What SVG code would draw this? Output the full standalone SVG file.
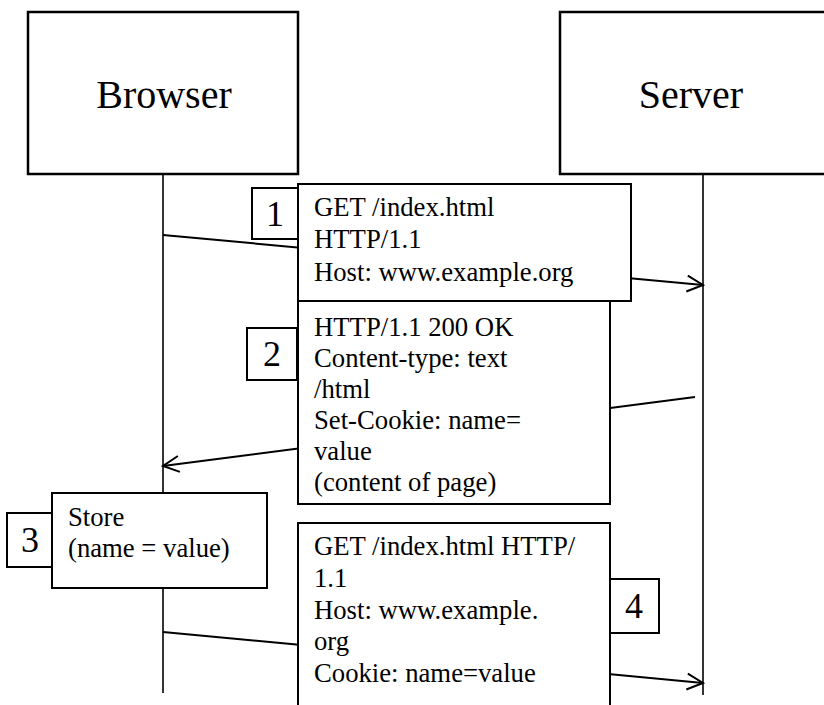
<svg xmlns="http://www.w3.org/2000/svg" width="824" height="705" viewBox="0 0 824 705">
<style>
  text { font-family: "Liberation Serif", Tinos, "Times New Roman", Times, "DejaVu Serif", serif; fill: #000; }
  .actor { fill: #fff; stroke: #000; stroke-width: 2.5; }
  .box { fill: #fff; stroke: #000; stroke-width: 2; }
  .life { stroke: #000; stroke-width: 1.6; fill: none; }
  .conn { stroke: #000; stroke-width: 2; fill: none; }
  .title { font-size: 40px; text-anchor: middle; }
  .msg { font-size: 26.7px; }
  .num { font-size: 36px; text-anchor: middle; }
</style>
<defs>
  <marker id="arr" viewBox="0 0 20 20" refX="18" refY="10" markerWidth="20" markerHeight="20" markerUnits="userSpaceOnUse" orient="auto">
    <path d="M2,2 L18,10 L2,18" fill="none" stroke="#000" stroke-width="2"/>
  </marker>
</defs>
<rect width="824" height="705" fill="#fff"/>

<g id="lifelines">
  <line class="life" x1="163" y1="174" x2="163" y2="693"/>
  <line class="life" x1="703" y1="174" x2="703" y2="695"/>
</g>

<g id="connectors">
  <line class="conn" x1="163" y1="235" x2="703" y2="285" marker-end="url(#arr)"/>
  <line class="conn" x1="695" y1="397" x2="163" y2="466" marker-end="url(#arr)"/>
  <line class="conn" x1="163" y1="632" x2="703" y2="683" marker-end="url(#arr)"/>
</g>

<g font-family="'Liberation Serif', Tinos, 'Times New Roman', 'DejaVu Serif', serif">
<g id="browser">
  <rect class="actor" x="28" y="12" width="270" height="162"/>
  <text class="title" x="164" y="108">Browser</text>
</g>

<g id="server">
  <rect class="actor" x="560" y="12" width="300" height="162"/>
  <text class="title" x="691" y="108">Server</text>
</g>

<g id="msg2">
  <rect class="box" x="298" y="301" width="312" height="203"/>
  <text class="msg"><tspan x="314" y="336">HTTP/1.1 200 OK</tspan><tspan x="314" y="367">Content-type: text</tspan><tspan x="314" y="398">/html</tspan><tspan x="314" y="429">Set-Cookie: name=</tspan><tspan x="314" y="460">value</tspan><tspan x="314" y="491">(content of page)</tspan></text>
</g>

<g id="msg1">
  <rect class="box" x="298" y="184" width="333" height="117"/>
  <text class="msg"><tspan x="314" y="216">GET /index.html</tspan><tspan x="314" y="248">HTTP/1.1</tspan><tspan x="314" y="281">Host: www.example.org</tspan></text>
</g>

<g id="label1">
  <rect class="box" x="252" y="188" width="46" height="51"/>
  <text class="num" x="275" y="226">1</text>
</g>

<g id="label2">
  <rect class="box" x="247" y="328" width="50" height="52"/>
  <text class="num" x="272" y="366">2</text>
</g>

<g id="store">
  <rect class="box" x="52" y="493" width="215" height="95"/>
  <text class="msg"><tspan x="68" y="526">Store</tspan><tspan x="68" y="557">(name = value)</tspan></text>
</g>

<g id="label3">
  <rect class="box" x="7" y="513" width="45" height="54"/>
  <text class="num" x="30" y="552">3</text>
</g>

<g id="msg4">
  <rect class="box" x="298" y="523" width="312" height="200"/>
  <text class="msg"><tspan x="314" y="555">GET /index.html HTTP/</tspan><tspan x="314" y="587">1.1</tspan><tspan x="314" y="619">Host: www.example.</tspan><tspan x="314" y="650">org</tspan><tspan x="314" y="682">Cookie: name=value</tspan></text>
</g>

<g id="label4">
  <rect class="box" x="610" y="579" width="49" height="54"/>
  <text class="num" x="634" y="618">4</text>
</g>
</g>
</svg>
